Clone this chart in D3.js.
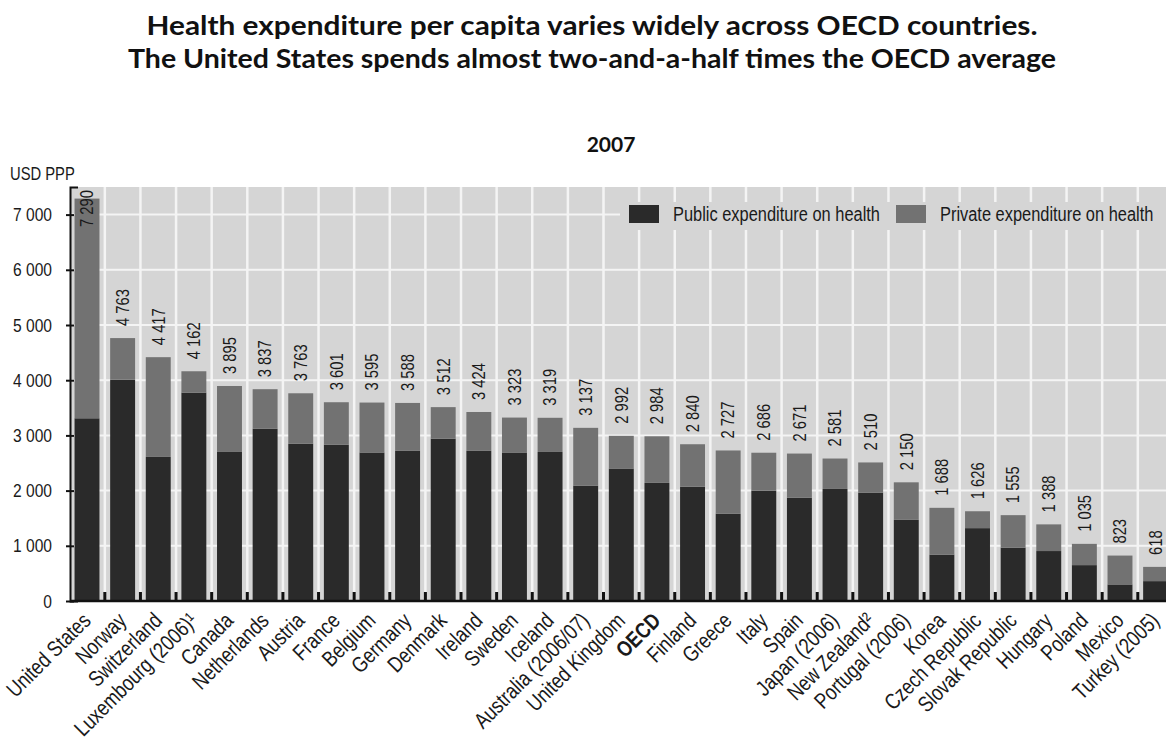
<!DOCTYPE html>
<html>
<head>
<meta charset="UTF-8">
<title>Health expenditure per capita, 2007</title>
<script src="https://d3js.org/d3.v7.min.js"></script>
<style>
    body { margin: 0; background: #fff; }
    svg { display: block; }
    .narrow { font-family: "Liberation Sans", Arial, sans-serif; fill: #1a1a1a; }
</style>
</head>
<body>
<svg id="chart" width="1166" height="746"></svg>
<script>
// data (USD PPP, 2007)
var countries = ["United States", "Norway", "Switzerland", "Luxembourg (2006)\u00b9", "Canada", "Netherlands",
    "Austria", "France", "Belgium", "Germany", "Denmark", "Ireland", "Sweden", "Iceland",
    "Australia (2006/07)", "United Kingdom", "OECD", "Finland", "Greece", "Italy", "Spain",
    "Japan (2006)", "New Zealand\u00b2", "Portugal (2006)", "Korea", "Czech Republic",
    "Slovak Republic", "Hungary", "Poland", "Mexico", "Turkey (2005)"];
var totalSpend = [7290, 4763, 4417, 4162, 3895, 3837, 3763, 3601, 3595, 3588, 3512, 3424, 3323, 3319,
    3137, 2992, 2984, 2840, 2727, 2686, 2671, 2581, 2510, 2150, 1688, 1626, 1555, 1388, 1035, 823, 618];
var publicSpend = [3310, 4010, 2610, 3775, 2700, 3120, 2850, 2830, 2690, 2720, 2940, 2720, 2690, 2700,
    2090, 2400, 2140, 2070, 1580, 2000, 1870, 2030, 1960, 1470, 840, 1320, 965, 905, 650, 300, 360];
var yTicks = [0, 1000, 2000, 3000, 4000, 5000, 6000, 7000];
var seriesNames = ["Public expenditure on health", "Private expenditure on health"];
var seriesColors = ["#2a2a2a", "#727272"];

var svg = d3.select("#chart");
var plotLeft = 70, plotRight = 1166, plotTop = 187, plotBottom = 601;

var x = d3.scaleBand().domain(countries).range([69.2, 69.2 + 35.62 * countries.length]).paddingInner(0.3).paddingOuter(0.15);
var y = d3.scaleLinear().domain([0, 7500]).range([plotBottom, plotTop]);
var fmt = d3.formatLocale({decimal: ".", thousands: " ", grouping: [3], currency: ["", ""]}).format(",d");
var gapX = function (d) { return x(d) - x.step() * x.paddingInner() / 2; };

// no condensed face is installed, so squeeze the regular one
function condense(sel, k) {
    sel.each(function () {
        var w = this.getComputedTextLength();
        d3.select(this).attr("textLength", w * k).attr("lengthAdjust", "spacingAndGlyphs");
    });
}

// titles
svg.append("text").attr("x", 592).attr("y", 35).attr("text-anchor", "middle")
    .attr("font-family", "Lato, 'Open Sans', sans-serif").attr("font-weight", 700).attr("font-size", 27)
    .attr("textLength", 891).attr("lengthAdjust", "spacingAndGlyphs").attr("fill", "#111")
    .text("Health expenditure per capita varies widely across OECD countries.");
svg.append("text").attr("x", 592).attr("y", 68).attr("text-anchor", "middle")
    .attr("font-family", "Lato, 'Open Sans', sans-serif").attr("font-weight", 700).attr("font-size", 27)
    .attr("textLength", 928).attr("lengthAdjust", "spacingAndGlyphs").attr("fill", "#111")
    .text("The United States spends almost two-and-a-half times the OECD average");
svg.append("text").attr("x", 611).attr("y", 152).attr("text-anchor", "middle")
    .attr("font-family", "Lato, 'Open Sans', sans-serif").attr("font-weight", 700).attr("font-size", 21)
    .attr("fill", "#111").text("2007");
svg.append("text").attr("class", "narrow").attr("x", 10).attr("y", 180)
    .attr("font-size", 18).text("USD PPP").call(condense, 0.82);

// plot background and grid
svg.append("rect").attr("x", plotLeft).attr("y", plotTop).attr("width", plotRight - plotLeft).attr("height", plotBottom - plotTop)
    .attr("fill", "#d5d5d5");
svg.append("g").selectAll("line").data(countries.slice(1)).join("line")
    .attr("x1", gapX).attr("x2", gapX)
    .attr("y1", plotTop).attr("y2", plotBottom)
    .attr("stroke", "#f4f4f4").attr("stroke-width", 2.5);
svg.append("g").selectAll("line").data(yTicks.slice(1)).join("line")
    .attr("x1", plotLeft).attr("x2", plotRight)
    .attr("y1", function (d) { return y(d); }).attr("y2", function (d) { return y(d); })
    .attr("stroke", "#f4f4f4").attr("stroke-width", 2);

// legend (sits on the plot, hiding the grid behind it)
var legend = svg.append("g");
legend.append("rect").attr("x", 620).attr("y", 202).attr("width", plotRight - 620).attr("height", 28).attr("fill", "#d5d5d5");
var legendX = [629, 896];
seriesNames.forEach(function (name, i) {
    legend.append("rect").attr("x", legendX[i]).attr("y", 205).attr("width", 30).attr("height", 18)
        .attr("fill", seriesColors[i]);
    legend.append("text").attr("class", "narrow").attr("x", legendX[i] + 44).attr("y", 221)
        .attr("font-size", 20).text(name).call(condense, 0.82);
});

// bars
var bars = svg.append("g");
bars.selectAll("rect.pub").data(countries).join("rect").attr("class", "pub")
    .attr("x", function (d) { return x(d); })
    .attr("width", x.bandwidth())
    .attr("y", function (d, i) { return y(publicSpend[i]); })
    .attr("height", function (d, i) { return y(0) - y(publicSpend[i]); })
    .attr("fill", seriesColors[0]);
bars.selectAll("rect.priv").data(countries).join("rect").attr("class", "priv")
    .attr("x", function (d) { return x(d); })
    .attr("width", x.bandwidth())
    .attr("y", function (d, i) { return y(totalSpend[i]); })
    .attr("height", function (d, i) { return y(publicSpend[i]) - y(totalSpend[i]); })
    .attr("fill", seriesColors[1]);

// value labels, rotated
svg.append("g").selectAll("text").data(countries).join("text")
    .attr("class", "narrow")
    .attr("font-size", 18)
    .attr("dy", "0.35em")
    .attr("transform", function (d, i) {
        var yy = Math.max(y(totalSpend[i]) - 12, plotTop + 40);
        return "translate(" + (x(d) + x.bandwidth() / 2) + "," + yy + ") rotate(-90)";
    })
    .text(function (d, i) { return fmt(totalSpend[i]); })
    .call(condense, 0.82);

// axes
var yAxis = svg.append("g").attr("transform", "translate(" + plotLeft + ",0)")
    .call(d3.axisLeft(y).tickValues(yTicks).tickSize(4).tickSizeOuter(-8).tickPadding(14).tickFormat(fmt));
yAxis.select(".domain").attr("stroke", "#111").attr("stroke-width", 2);
yAxis.selectAll(".tick line").attr("stroke", "#111").attr("stroke-width", 2).attr("x2", 4).attr("x1", -4);
yAxis.selectAll(".tick text").attr("class", "narrow").attr("font-size", 19).attr("fill", "#1a1a1a")
    .call(condense, 0.82);

svg.append("line").attr("x1", plotLeft).attr("x2", plotRight).attr("y1", plotBottom).attr("y2", plotBottom)
    .attr("stroke", "#111").attr("stroke-width", 2.5);
svg.append("g").selectAll("line").data(countries.slice(1)).join("line")
    .attr("x1", gapX).attr("x2", gapX)
    .attr("y1", plotBottom - 9).attr("y2", plotBottom)
    .attr("stroke", "#111").attr("stroke-width", 3);

// category labels
svg.append("g").selectAll("text").data(countries).join("text")
    .attr("class", "narrow")
    .attr("font-size", 22)
    .attr("font-weight", function (d) { return d === "OECD" ? 700 : 400; })
    .attr("text-anchor", "end")
    .attr("transform", function (d) {
        return "translate(" + (x(d) + x.bandwidth() / 2 + 5) + "," + 622 + ") rotate(-45)";
    })
    .text(function (d) { return d; })
    .call(condense, 0.82);
</script>
</body>
</html>
